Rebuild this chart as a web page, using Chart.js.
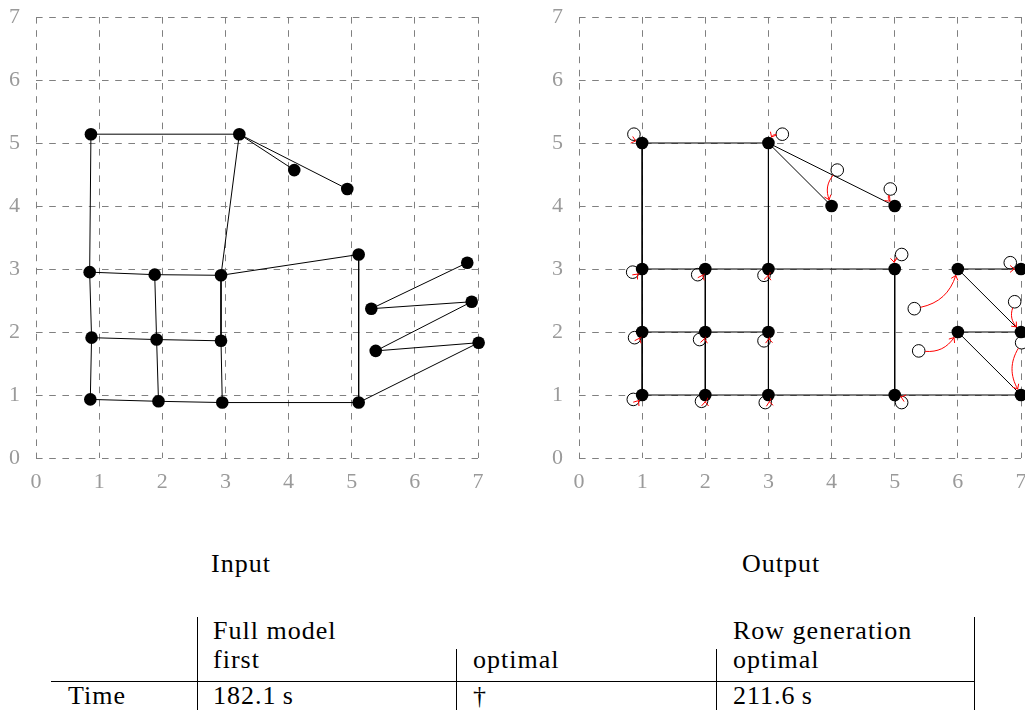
<!DOCTYPE html>
<html>
<head>
<meta charset="utf-8">
<script src="https://cdn.jsdelivr.net/npm/chart.js@4/dist/chart.umd.min.js"></script>
<style>
  html, body { margin: 0; padding: 0; background: #fff; overflow: hidden; }
  body { width: 1025px; height: 710px; position: relative; }
  canvas { position: absolute; top: 0; }
  .t { position: absolute; font-family: "Liberation Serif", "Times New Roman", serif; font-size: 26px;
       line-height: 26px; letter-spacing: 1px; color: #000; white-space: nowrap; }
  .rule { position: absolute; background: #000; }
</style>
</head>
<body>
<canvas id="inputChart" width="500" height="510" style="left:0px"></canvas>
<canvas id="outputChart" width="500" height="510" style="left:543px"></canvas>
<div id="texts"></div>
<script>
// Axis ticks shared by both panels
const TICK_LABELS = ['0', '1', '2', '3', '4', '5', '6', '7'];

// Node coordinates before placement (input layout)
const inputX = [0.87, 3.22, 4.09, 4.93, 0.85, 1.88, 2.93, 5.11, 0.88, 1.91,
                2.93, 0.86, 1.94, 2.95, 5.11, 5.31, 5.38, 6.83, 6.90, 7.01];
const inputY = [5.14, 5.14, 4.57, 4.27, 2.95, 2.91, 2.90, 3.23, 1.91, 1.88,
                1.86, 0.93, 0.90, 0.88, 0.88, 2.37, 1.70, 3.10, 2.48, 1.83];

// Node coordinates after snapping to the grid (output layout)
const outputX = [1, 3, 4, 5, 1, 2, 3, 5, 1, 2, 3, 1, 2, 3, 5, 6, 6, 7, 7, 7];
const outputY = [5, 5, 4, 4, 3, 3, 3, 3, 2, 2, 2, 1, 1, 1, 1, 3, 2, 3, 2, 1];

// Edges, as pairs of node indices
const edgeFrom = [0, 0, 1, 1, 1, 4, 5, 6, 7, 4, 8, 5, 9, 6, 10, 8, 9, 11, 12, 13, 14, 15, 15, 16, 16];
const edgeTo   = [1, 4, 6, 2, 3, 5, 6, 7, 14, 8, 11, 9, 12, 10, 13, 9, 10, 12, 13, 14, 19, 17, 18, 18, 19];

// Panel captions
const panelCaptions = ['Input', 'Output'];

// Timing table
const tableGroups = ['Full model', 'Row generation'];
const tableColumns = ['first', 'optimal', 'optimal'];
const tableRowLabel = 'Time';
const tableValues = ['182.1\u2009s', '\u2020', '211.6\u2009s'];

const GRID_COLOR = '#808080';
const TICK_COLOR = '#9a9a9a';
const NODE_RADIUS = 6.3;

function points(xs, ys) {
  return xs.map((x, i) => ({ x: x, y: ys[i] }));
}

function edgeDatasets(xs, ys) {
  return edgeFrom.map((a, i) => {
    const b = edgeTo[i];
    return {
      data: [{ x: xs[a], y: ys[a] }, { x: xs[b], y: ys[b] }],
      showLine: true,
      borderColor: '#000',
      borderWidth: 1,
      pointRadius: 0,
      pointHoverRadius: 0,
      clip: false,
      order: 1
    };
  });
}

function scaleOptions(isX) {
  return {
    type: 'linear',
    min: 0,
    max: 7,
    ticks: {
      stepSize: 1,
      color: TICK_COLOR,
      padding: isX ? 11 : 16,
      font: { family: '"Liberation Serif", serif', size: 22 },
      callback: (v) => TICK_LABELS[v]
    },
    grid: { color: GRID_COLOR, lineWidth: 1, drawTicks: false },
    border: { display: false, dash: [6.6, 6.6] },
    afterFit: (scale) => {
      if (isX) { scale.height = 52; } else { scale.width = 36; }
      scale.paddingTop = 0;
      scale.paddingBottom = 0;
      scale.paddingLeft = 0;
      scale.paddingRight = 0;
    }
  };
}

// Red bent arrows from each input position to its placed grid position
const placementArrows = {
  id: 'placementArrows',
  afterDatasetsDraw(chart) {
    const { ctx } = chart;
    const xs = chart.scales.x, ys = chart.scales.y;
    const bend = 30 * Math.PI / 180;
    ctx.save();
    ctx.strokeStyle = '#ff0000';
    ctx.lineWidth = 1;
    ctx.lineCap = 'round';
    ctx.lineJoin = 'round';
    for (let i = 0; i < inputX.length; i++) {
      const x0 = xs.getPixelForValue(inputX[i]), y0 = ys.getPixelForValue(inputY[i]);
      const x1 = xs.getPixelForValue(outputX[i]), y1 = ys.getPixelForValue(outputY[i]);
      const a = Math.atan2(y1 - y0, x1 - x0);
      const aOut = a + bend, aIn = a - bend;
      const r = NODE_RADIUS + 0.5;
      const sx = x0 + r * Math.cos(aOut), sy = y0 + r * Math.sin(aOut);
      const ex = x1 - r * Math.cos(aIn), ey = y1 - r * Math.sin(aIn);
      const d = Math.hypot(ex - sx, ey - sy);
      const k = 0.3915 * d;
      const c1x = sx + k * Math.cos(aOut), c1y = sy + k * Math.sin(aOut);
      const c2x = ex - k * Math.cos(aIn), c2y = ey - k * Math.sin(aIn);
      ctx.beginPath();
      ctx.moveTo(sx, sy);
      ctx.bezierCurveTo(c1x, c1y, c2x, c2y, ex, ey);
      ctx.stroke();
      // open arrow tip
      const h = aIn;
      const len = 5, spread = 0.7;
      ctx.beginPath();
      ctx.moveTo(ex - len * Math.cos(h - spread), ey - len * Math.sin(h - spread));
      ctx.lineTo(ex, ey);
      ctx.lineTo(ex - len * Math.cos(h + spread), ey - len * Math.sin(h + spread));
      ctx.stroke();
    }
    ctx.restore();
  }
};

function makeChart(id, xs, ys, withInputs) {
  const datasets = [
    {
      data: points(xs, ys),
      pointRadius: NODE_RADIUS,
      pointHoverRadius: NODE_RADIUS,
      pointBackgroundColor: '#000',
      pointBorderWidth: 0,
      showLine: false,
      clip: false,
      order: 0
    },
    ...edgeDatasets(xs, ys)
  ];
  if (withInputs) {
    datasets.push({
      data: points(inputX, inputY),
      pointRadius: NODE_RADIUS,
      pointHoverRadius: NODE_RADIUS,
      pointBackgroundColor: '#fff',
      pointBorderColor: '#000',
      pointBorderWidth: 1,
      showLine: false,
      clip: false,
      order: 2
    });
  }
  return new Chart(document.getElementById(id), {
    type: 'scatter',
    data: { datasets: datasets },
    options: {
      responsive: false,
      animation: false,
      devicePixelRatio: 1,
      layout: { padding: { top: 17, right: 22, left: 0, bottom: 0 } },
      plugins: { legend: { display: false }, tooltip: { enabled: false } },
      scales: { x: scaleOptions(true), y: scaleOptions(false) }
    },
    plugins: withInputs ? [placementArrows] : []
  });
}

makeChart('inputChart', inputX, inputY, false);
makeChart('outputChart', outputX, outputY, true);

// Captions and timing table
const host = document.getElementById('texts');
function text(str, left, baseline) {
  const el = document.createElement('div');
  el.className = 't';
  el.textContent = str;
  el.style.left = left + 'px';
  el.style.top = (baseline - 22) + 'px';
  host.appendChild(el);
}
function rule(left, top, width, height) {
  const el = document.createElement('div');
  el.className = 'rule';
  el.style.left = left + 'px';
  el.style.top = top + 'px';
  el.style.width = width + 'px';
  el.style.height = height + 'px';
  host.appendChild(el);
}
text(panelCaptions[0], 211, 573);
text(panelCaptions[1], 742, 573);
text(tableGroups[0], 213, 640);
text(tableGroups[1], 733, 640);
text(tableColumns[0], 213, 669);
text(tableColumns[1], 473, 669);
text(tableColumns[2], 733, 669);
text(tableRowLabel, 68, 705);
text(tableValues[0], 213, 705);
text(tableValues[1], 473, 705);
text(tableValues[2], 733, 705);
rule(197, 617, 1, 100);
rule(456, 649, 1, 70);
rule(716, 649, 1, 70);
rule(974, 617, 1, 100);
rule(51, 681, 924, 1);
</script>
</body>
</html>
